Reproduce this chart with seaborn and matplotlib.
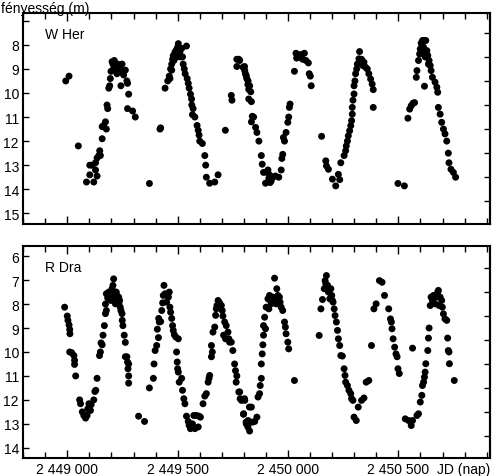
import matplotlib
matplotlib.use("Agg")
import matplotlib.pyplot as plt
from matplotlib.ticker import FixedLocator, MultipleLocator, FuncFormatter
import seaborn as sns
import pandas as pd

# W Her: Julian date and visual magnitude
wher_jd = [
    2448993, 2449008, 2449050, 2449087, 2449120, 2449102, 2449113, 2449128, 2449102, 2449135,
    2449128, 2449135, 2449143, 2449147, 2449150, 2449158, 2449158, 2449165, 2449173, 2449177,
    2449180, 2449183, 2449188, 2449192, 2449203, 2449210, 2449218, 2449225, 2449233, 2449240,
    2449248, 2449243, 2449255, 2449263, 2449270, 2449273, 2449278, 2449273, 2449296, 2449308,
    2449207, 2449213, 2449222, 2449228, 2449237, 2449198, 2449195,
    2449372, 2449420, 2449423, 2449443, 2449455, 2449462, 2449468, 2449473, 2449477, 2449480,
    2449488, 2449495, 2449503, 2449507, 2449513, 2449518, 2449522, 2449525, 2449530, 2449534,
    2449540, 2449543, 2449548, 2449552, 2449558, 2449563, 2449564, 2449570, 2449567, 2449578,
    2449588, 2449593, 2449597, 2449600, 2449612, 2449623, 2449627, 2449630, 2449645, 2449668,
    2449683, 2449492, 2449498, 2449510, 2449500, 2449483, 2449473, 2449465,
    2449716, 2449743, 2449746, 2449768, 2449777, 2449768, 2449803, 2449807, 2449813, 2449818,
    2449822, 2449822,
    2449781, 2449796, 2449804, 2449811, 2449819, 2449826, 2449831, 2449834, 2449838, 2449844,
    2449834, 2449853, 2449859, 2449868, 2449879, 2449883, 2449889, 2449898, 2449909, 2449916,
    2449924, 2449931, 2449943, 2449958, 2449969, 2449972, 2449976, 2449979, 2449984, 2449991,
    2449999, 2450003, 2450006, 2450009, 2449913, 2449919, 2449904,
    2450029, 2450036, 2450039, 2450051, 2450059, 2450066, 2450074, 2450081, 2450092, 2450096,
    2450101, 2450105, 2450152, 2450171, 2450174, 2450183, 2450201, 2450216, 2450228, 2450234,
    2450239, 2450254, 2450261, 2450264, 2450269, 2450273, 2450279, 2450284, 2450288, 2450291,
    2450291, 2450294, 2450299, 2450299, 2450303, 2450306, 2450311, 2450314, 2450321, 2450324,
    2450333, 2450339, 2450344, 2450351, 2450359, 2450366, 2450374, 2450381, 2450386, 2450386,
    2450498, 2450527, 2450543, 2450551, 2450558, 2450566, 2450573, 2450581, 2450584, 2450591,
    2450596, 2450599, 2450603, 2450609, 2450614, 2450618, 2450618, 2450624, 2450629, 2450633,
    2450639, 2450644, 2450648, 2450654, 2450666, 2450674, 2450678, 2450681, 2450689, 2450696,
    2450704, 2450711, 2450719, 2450726, 2450729, 2450738, 2450749, 2450759,
    2450606, 2450614, 2450611, 2450621, 2450636, 2450603,
]
wher_mag = [
    9.5, 9.3, 12.2, 13.7, 13.7, 13.0, 13.0, 12.9, 13.4, 13.45,
    13.2, 12.7, 12.6, 12.4, 12.6, 11.9, 11.4, 11.35, 11.2, 11.5,
    10.5, 10.65, 9.8, 9.7, 8.7, 9.0, 8.85, 9.2, 8.85, 9.0,
    8.8, 9.7, 9.25, 9.05, 9.5, 9.6, 10.05, 10.65, 10.75, 11.0,
    8.8, 8.65, 9.05, 8.8, 9.1, 9.1, 9.4,
    13.76, 11.5, 11.45, 9.8, 9.5, 9.3, 9.0, 8.8, 8.6, 8.45,
    8.3, 8.2, 7.95, 8.4, 8.5, 8.15, 8.5, 8.8, 9.0, 9.2,
    8.05, 9.4, 9.6, 9.8, 10.05, 10.25, 10.5, 10.65, 10.9, 11.0,
    11.35, 11.55, 11.75, 12.0, 12.1, 12.6, 13.0, 13.5, 13.75, 13.7,
    13.4, 8.4, 8.5, 8.3, 8.1, 8.65, 9.05, 9.4,
    11.55, 10.1, 10.3, 8.6, 8.6, 8.9, 8.9, 9.2, 9.4, 9.65,
    9.85, 10.25,
    8.65, 8.93, 9.07, 9.28, 9.5, 9.7, 9.95, 10.36, 10.97, 11.0,
    11.2, 11.43, 11.64, 12.0, 12.6, 12.96, 13.3, 13.75, 13.2, 13.4,
    13.65, 13.5, 13.45, 13.5, 13.2, 12.72, 12.55, 11.85, 12.0, 11.64,
    11.22, 11.0, 10.6, 10.46, 13.55, 13.72, 13.3,
    9.1, 8.35, 8.55, 8.5, 8.4, 8.6, 8.35, 8.65, 8.75, 9.2,
    9.3, 9.7, 11.8, 12.82, 13.03, 13.17, 13.58, 13.86, 13.38, 13.6,
    12.9, 12.6, 12.4, 12.2, 12.0, 11.78, 11.57, 11.36, 11.15, 10.88,
    10.6, 10.3, 10.04, 9.7, 9.5, 9.2, 9.0, 8.8, 8.58, 8.28,
    8.6, 8.86, 8.72, 8.93, 9.0, 9.2, 9.42, 9.63, 9.86, 10.6,
    13.76, 13.86, 11.05, 10.67, 10.53, 10.43, 10.4, 9.35, 9.07, 8.65,
    8.38, 8.17, 7.93, 7.82, 8.1, 8.3, 9.72, 7.82, 8.24, 8.44,
    8.65, 8.86, 9.07, 9.35, 9.55, 9.76, 9.97, 10.6, 10.88, 11.22,
    11.5, 11.7, 12.0, 12.5, 12.9, 13.17, 13.3, 13.5,
    7.95, 7.82, 8.3, 8.5, 8.8, 8.17,
]

# R Dra: Julian date and visual magnitude
rdra_jd = [
    2448988, 2449000, 2449003, 2449008, 2449011, 2449012, 2449011, 2449020, 2449030, 2449033,
    2449033, 2449038, 2449056, 2449060, 2449068, 2449075, 2449083, 2449090, 2449093, 2449098,
    2449105, 2449108, 2449120, 2449125, 2449129, 2449135, 2449146, 2449150, 2449153, 2449158,
    2449162, 2449168, 2449173, 2449177, 2449173, 2449177, 2449183, 2449188, 2449195, 2449203,
    2449210, 2449207, 2449213, 2449218, 2449222, 2449228, 2449233, 2449237, 2449240, 2449243,
    2449248, 2449249, 2449252, 2449258, 2449263, 2449263, 2449270, 2449273, 2449278, 2449275,
    2449278, 2449278, 2449198, 2449192, 2449225, 2449218, 2449234,
    2449323, 2449350, 2449372, 2449390, 2449393, 2449398, 2449405, 2449413, 2449408, 2449417,
    2449414, 2449423, 2449428, 2449432, 2449435, 2449438, 2449443, 2449450, 2449458, 2449462,
    2449465, 2449468, 2449473, 2449477, 2449480, 2449485, 2449492, 2449503, 2449495, 2449498,
    2449500, 2449503, 2449507, 2449518, 2449522, 2449528, 2449533, 2449540, 2449548, 2449552,
    2449558, 2449567, 2449573, 2449578, 2449585, 2449593, 2449597, 2449603, 2449615, 2449623,
    2449630, 2449638, 2449642, 2449645, 2449653, 2449657, 2449653, 2449660, 2449668, 2449672,
    2449675, 2449678, 2449683, 2449690, 2449698, 2449702, 2449705, 2449713, 2449708, 2449717,
    2449720, 2449728, 2449732, 2449735, 2449743, 2449750, 2449758, 2449762, 2449768, 2449765,
    2449777, 2449783, 2449803, 2449798, 2449810, 2449818, 2449825,
    2449781, 2449789, 2449804, 2449799, 2449811, 2449819, 2449826, 2449834, 2449838, 2449849,
    2449859, 2449864, 2449871, 2449874, 2449879, 2449879, 2449883, 2449886, 2449889, 2449889,
    2449894, 2449898, 2449901, 2449909, 2449913, 2449919, 2449924, 2449931, 2449939, 2449943,
    2449949, 2449954, 2449958, 2449964, 2449969, 2449976, 2449984, 2449988, 2449991, 2449999,
    2450003, 2450029, 2449916, 2449928, 2449946, 2449961,
    2450141, 2450149, 2450156, 2450164, 2450168, 2450174, 2450179, 2450183, 2450189, 2450194,
    2450198, 2450204, 2450209, 2450213, 2450219, 2450224, 2450228, 2450234, 2450239, 2450246,
    2450254, 2450258, 2450261, 2450269, 2450276, 2450284, 2450288, 2450294, 2450299, 2450309,
    2450318, 2450333, 2450344, 2450171, 2450186, 2450201,
    2450354, 2450366, 2450378, 2450389, 2450399, 2450414, 2450426, 2450437, 2450456, 2450464,
    2450468, 2450471, 2450476, 2450483, 2450489, 2450494, 2450498, 2450504,
    2450531, 2450546, 2450558, 2450564, 2450564, 2450584, 2450591, 2450599, 2450606, 2450609,
    2450614, 2450618, 2450621, 2450624, 2450633, 2450636, 2450639, 2450644, 2450648, 2450654,
    2450659, 2450666, 2450674, 2450678, 2450681, 2450684, 2450689, 2450696, 2450699, 2450704,
    2450711, 2450719, 2450723, 2450726, 2450729, 2450731, 2450753,
]
rdra_mag = [
    8.13, 8.5, 8.68, 8.87, 9.06, 9.24, 10.0, 10.03, 10.15, 10.35,
    10.52, 11.0, 12.0, 12.16, 12.5, 12.65, 12.76, 12.65, 12.37, 12.16,
    12.44, 12.2, 12.0, 11.65, 11.6, 11.1, 10.15, 10.0, 9.62, 9.7,
    9.3, 8.9, 8.4, 8.27, 8.0, 7.57, 7.75, 7.5, 7.64, 7.36,
    6.95, 7.22, 7.57, 7.75, 7.5, 7.92, 7.71, 7.85, 8.13, 8.27,
    8.4, 8.68, 8.9, 9.3, 9.6, 10.2, 10.2, 10.42, 10.5, 10.7,
    11.0, 11.3, 7.85, 7.71, 7.64, 7.99, 7.99,
    12.68, 12.9, 11.5, 11.1, 10.5, 9.94, 9.73, 9.4, 9.05, 8.75,
    8.6, 8.73, 8.27, 7.95, 7.64, 7.22, 7.57, 7.92, 7.71, 7.5,
    8.13, 8.34, 8.6, 8.9, 9.1, 9.28, 9.38, 9.45, 10.0, 10.42,
    10.7, 10.84, 11.26, 11.1, 11.6, 11.95, 12.16, 12.68, 12.9, 13.06,
    13.2, 13.0, 12.65, 13.2, 12.65, 13.13, 12.68, 12.72, 12.16, 11.84,
    11.74, 11.26, 11.1, 10.98, 10.2, 10.0, 9.73, 9.17, 8.96, 8.47,
    8.2, 8.06, 7.85, 7.95, 8.06, 8.27, 8.5, 8.75, 9.3, 9.45,
    8.9, 9.17, 9.45, 9.59, 9.59, 9.94, 10.5, 10.78, 11.0, 11.26,
    11.67, 11.95, 11.95, 12.6, 12.93, 13.13, 12.3,
    11.67, 12.02, 12.02, 12.58, 13.0, 12.86, 13.3, 12.3, 12.93, 12.9,
    12.72, 11.88, 11.74, 11.4, 11.1, 10.5, 10.08, 9.7, 9.3, 8.9,
    8.55, 9.03, 8.13, 7.78, 8.2, 7.85, 7.99, 7.71, 6.92, 7.78,
    7.36, 7.64, 7.85, 7.92, 8.13, 8.27, 8.75, 8.96, 9.24, 9.59,
    9.87, 11.19, 7.64, 7.78, 7.99, 7.71,
    9.31, 8.2, 7.81, 7.36, 7.02, 6.81, 7.22, 7.5, 7.78, 7.36,
    7.64, 7.92, 8.2, 8.48, 8.75, 9.1, 9.45, 9.73, 10.15, 10.17,
    10.7, 10.98, 11.26, 11.4, 11.6, 11.74, 11.95, 12.02, 12.72, 12.86,
    12.3, 12.02, 11.92, 7.15, 7.36, 7.85,
    11.26, 11.19, 9.73, 8.2, 7.99, 7.02, 7.09, 7.64, 8.2, 8.62,
    8.75, 9.03, 9.45, 9.8, 10.08, 10.2, 10.7, 10.9,
    12.79, 12.86, 13.07, 9.84, 12.86, 12.65, 12.58, 12.09, 11.81, 11.4,
    11.26, 11.05, 10.84, 10.49, 9.94, 9.42, 9.0, 8.06, 7.71, 7.85,
    7.64, 7.99, 7.71, 7.5, 7.43, 8.06, 7.71, 7.85, 8.13, 8.41,
    8.62, 8.68, 9.42, 9.94, 10.0, 10.49, 11.19,
]

jd_major = [2449000, 2449500, 2450000, 2450500]
wher_ticks = [7, 8, 9, 10, 11, 12, 13, 14, 15]
rdra_ticks = [6, 7, 8, 9, 10, 11, 12, 13, 14]

sns.set_style("ticks", {"axes.edgecolor": "black", "text.color": "black",
                        "xtick.color": "black", "ytick.color": "black"})
plt.rcParams["font.family"] = ["Liberation Sans Narrow", "Liberation Sans", "DejaVu Sans"]
plt.rcParams["font.size"] = 10

fig = plt.figure(figsize=(4.92, 4.77), dpi=100)
ax1 = fig.add_axes([0.047, 0.528, 0.949, 0.443])
ax2 = fig.add_axes([0.047, 0.038, 0.949, 0.445])

wher = pd.DataFrame({"jd": wher_jd, "mag": wher_mag})
rdra = pd.DataFrame({"jd": rdra_jd, "mag": rdra_mag})

panels = [
    (ax1, wher, "W Her", (15.45, 6.67), wher_ticks),
    (ax2, rdra, "R Dra", (14.42, 5.56), rdra_ticks),
]
for ax, df, name, ylim, yt in panels:
    sns.scatterplot(data=df, x="jd", y="mag", ax=ax, color="black", s=25,
                    linewidth=0, edgecolor="none")
    ax.set_xlim(2448800, 2450915)
    ax.set_ylim(*ylim)
    ax.set_xlabel("")
    ax.set_ylabel("")
    ax.xaxis.set_major_locator(FixedLocator(jd_major))
    ax.xaxis.set_minor_locator(MultipleLocator(100))
    ax.set_yticks(yt)
    ax.set_yticklabels(["" if (name == "W Her" and v == 7) else str(v) for v in yt])
    ax.tick_params(axis="both", which="both", direction="in", top=True, right=False,
                   width=1.0, labelsize=10, pad=3)
    ax.tick_params(axis="x", which="major", length=6)
    ax.tick_params(axis="x", which="minor", length=4)
    ax.tick_params(axis="y", which="major", length=4)
    sec = ax.secondary_yaxis("right")
    sec.set_yticks([v + 0.5 for v in yt if v + 0.5 < ylim[0]])
    sec.tick_params(direction="in", length=4, width=1.0, labelright=False)
    for s in ax.spines.values():
        s.set_linewidth(1.5)
    sec.spines["right"].set_linewidth(1.5)
    ax.text(0.047, 0.90, name, transform=ax.transAxes, fontsize=10,
            ha="left", va="center")

ax1.tick_params(axis="x", which="both", labelbottom=False)
ax2.xaxis.set_major_formatter(FuncFormatter(lambda v, p: f"{int(v):,}".replace(",", " ")))

fig.text(0.002, 0.981, "fényesség (m)", fontsize=10, ha="left", va="center")
fig.text(0.942, 0.0147, "JD (nap)", fontsize=10, ha="center", va="center")

fig.savefig("out.png", dpi=100)
